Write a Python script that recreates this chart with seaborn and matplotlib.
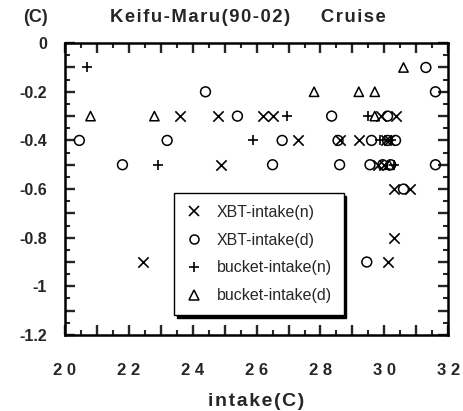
import matplotlib
matplotlib.use("Agg")
import matplotlib.pyplot as plt
import matplotlib.ticker as mticker
from matplotlib.lines import Line2D
import seaborn as sns
import pandas as pd

sns.set_theme(style="white")
plt.rcParams["font.family"] = ["Liberation Sans", "DejaVu Sans"]

# intake temperature (C) and difference (C) for each measurement pair
xbt_n_x = [23.6, 24.8, 26.2, 26.5, 29.9, 30.35, 24.9, 27.3, 28.6, 29.2, 30.05, 30.15,
           29.8, 30.0, 30.3, 30.8, 30.3, 30.1, 22.45]
xbt_n_y = [-0.3, -0.3, -0.3, -0.3, -0.3, -0.3, -0.5, -0.4, -0.4, -0.4, -0.4, -0.4,
           -0.5, -0.5, -0.6, -0.6, -0.8, -0.9, -0.9]

xbt_d_x = [20.45, 21.8, 23.2, 24.4, 25.4, 26.8, 26.5, 28.35, 31.3, 31.6, 30.1, 28.55,
           29.6, 30.1, 30.35, 28.6, 29.55, 29.95, 30.2, 31.6, 30.6, 29.45]
xbt_d_y = [-0.4, -0.5, -0.4, -0.2, -0.3, -0.4, -0.5, -0.3, -0.1, -0.2, -0.3, -0.4,
           -0.4, -0.4, -0.4, -0.5, -0.5, -0.5, -0.5, -0.5, -0.6, -0.9]

bucket_n_x = [20.7, 22.9, 25.9, 26.95, 29.5, 29.85, 30.2, 30.3]
bucket_n_y = [-0.1, -0.5, -0.4, -0.3, -0.3, -0.4, -0.4, -0.5]

bucket_d_x = [20.8, 22.8, 27.8, 29.2, 29.7, 30.6, 29.7, 30.15]
bucket_d_y = [-0.3, -0.3, -0.2, -0.2, -0.2, -0.1, -0.3, -0.5]

series_names = ["XBT-intake(n)", "XBT-intake(d)", "bucket-intake(n)", "bucket-intake(d)"]
series_markers = ["x", "o", "+", "^"]

x_tick_values = [20, 22, 24, 26, 28, 30, 32]
y_tick_labels = {0.0: "0", -0.2: "-0.2", -0.4: "-0.4", -0.6: "-0.6",
                 -0.8: "-0.8", -1.0: "-1", -1.2: "-1.2"}

fig = plt.figure(figsize=(4.64, 4.11), dpi=100)
ax = fig.add_axes([0.140, 0.185, 0.826, 0.710])

data = [
    (xbt_n_x, xbt_n_y),
    (xbt_d_x, xbt_d_y),
    (bucket_n_x, bucket_n_y),
    (bucket_d_x, bucket_d_y),
]

for (xs, ys), name, mk in zip(data, series_names, series_markers):
    df = pd.DataFrame({"intake": xs, "diff": ys})
    if mk in ("x", "+"):
        sns.scatterplot(data=df, x="intake", y="diff", marker=mk, s=55,
                        color="black", linewidth=1.2, ax=ax, zorder=3)
    else:
        size = 50 if mk == "o" else 45
        sns.scatterplot(data=df, x="intake", y="diff", marker=mk, s=size,
                        facecolors="none", edgecolors="black", linewidth=1.1,
                        ax=ax, zorder=3)

ax.set_xlim(20, 32)
ax.set_ylim(-1.2, 0)

for sp in ax.spines.values():
    sp.set_visible(True)
    sp.set_color("black")
    sp.set_linewidth(1.8)

ax.xaxis.set_major_locator(mticker.MultipleLocator(1))
ax.xaxis.set_minor_locator(mticker.MultipleLocator(0.5))
ax.yaxis.set_major_locator(mticker.MultipleLocator(0.1))
ax.yaxis.set_minor_locator(mticker.MultipleLocator(0.05))


def fmt_x(v, pos):
    iv = int(round(v))
    if iv in x_tick_values and abs(v - iv) < 1e-6:
        return " ".join(str(iv))
    return ""


def fmt_y(v, pos):
    for k, lab in y_tick_labels.items():
        if abs(v - k) < 1e-6:
            return lab
    return ""


ax.xaxis.set_major_formatter(mticker.FuncFormatter(fmt_x))
ax.yaxis.set_major_formatter(mticker.FuncFormatter(fmt_y))

ax.tick_params(which="major", direction="in", length=7, width=1.7,
               top=True, right=True, bottom=True, left=True)
ax.tick_params(which="minor", direction="in", length=3.5, width=1.5,
               top=True, right=True, bottom=True, left=True)
ax.tick_params(axis="x", which="major", pad=20, labelsize=12)
ax.tick_params(axis="y", which="major", pad=13, labelsize=11.5)
for lab in ax.get_xticklabels() + ax.get_yticklabels():
    lab.set_fontweight("bold")

ax.set_xlabel("\u200a".join("intake(C)"), fontsize=14,
              fontweight="bold", labelpad=11)
ax.set_ylabel("")

fig.text(0.076, 0.958, "(C)", fontsize=13, fontweight="bold",
         ha="center", va="center")
fig.text(0.535, 0.958, "\u200a".join("Keifu-Maru(90-02)") + "      " +
         "\u200a".join("Cruise"), fontsize=13.3,
         fontweight="bold", ha="center", va="center")

handles = []
for name, mk in zip(series_names, series_markers):
    if mk in ("x", "+"):
        h = Line2D([], [], linestyle="none", marker=mk, markersize=7.5,
                   markeredgewidth=1.2, color="black")
    else:
        h = Line2D([], [], linestyle="none", marker=mk, markersize=6.5,
                   markeredgewidth=1.1, markerfacecolor="none",
                   markeredgecolor="black")
    handles.append(h)

leg = ax.legend(handles, series_names, loc="lower left",
                bbox_to_anchor=(0.285, 0.068), frameon=True, fancybox=False,
                shadow={"color": "black", "alpha": 1.0},
                fontsize=11.5, labelspacing=0.8, handlelength=1.0,
                handletextpad=0.9, borderpad=0.75, borderaxespad=0)
leg.get_frame().set_edgecolor("black")
leg.get_frame().set_linewidth(1.0)
leg.get_frame().set_facecolor("white")
leg.set_zorder(5)

fig.savefig("out.png", dpi=100)
